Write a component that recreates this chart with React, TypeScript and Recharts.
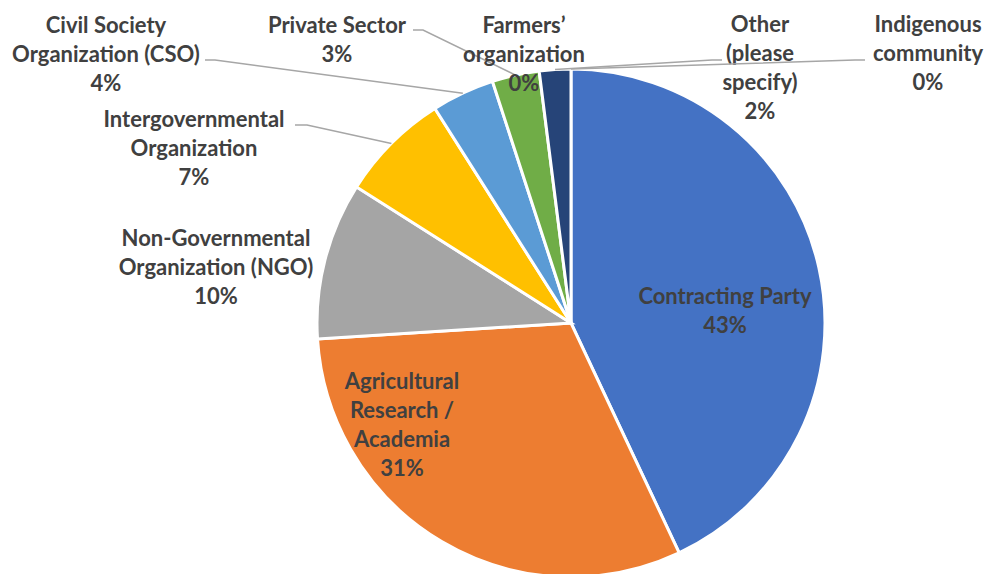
import { Cell, Pie, PieChart } from 'recharts'

const CATEGORIES = [
	'Contracting Party',
	'Agricultural Research / Academia',
	'Non-Governmental Organization (NGO)',
	'Intergovernmental Organization',
	'Civil Society Organization (CSO)',
	'Private Sector',
	'Farmers’ organization',
	'Other (please specify)',
	'Indigenous community',
]
const SHARES = [43, 31, 10, 7, 4, 3, 0, 2, 0]
const COLORS = ['#4472C4', '#ED7D31', '#A5A5A5', '#FFC000', '#5B9BD5', '#70AD47', '#9E480E', '#264478', '#636363']

// label text lines (percent is appended), offsets from the pie centre
const LABEL_LINES = [
	['Contracting Party'],
	['Agricultural', 'Research /', 'Academia'],
	['Non-Governmental', 'Organization (NGO)'],
	['Intergovernmental', 'Organization'],
	['Civil Society', 'Organization (CSO)'],
	['Private Sector'],
	['Farmers’', 'organization'],
	['Other', '(please', 'specify)'],
	['Indigenous', 'community'],
]

type LabelPlace = { dx: number; dy: number; lead?: [number, number, number, number] }
const LABEL_PLACES: LabelPlace[] = [
	{ dx: 154, dy: -28 },
	{ dx: -169, dy: 57 },
	{ dx: -355, dy: -86 },
	{ dx: -377, dy: -205, lead: [-276, -198, -264, -198] },
	{ dx: -465, dy: -299, lead: [-366, -263, -356, -263] },
	{ dx: -234, dy: -299, lead: [-158, -293, -148, -293] },
	{ dx: -47, dy: -299 },
	{ dx: 189, dy: -300, lead: [151, -263, 141, -263] },
	{ dx: 357, dy: -300, lead: [294, -263, 284, -263] },
]

const data = CATEGORIES.map((name, i) => ({ name, value: SHARES[i] }))
const total = SHARES.reduce((a, b) => a + b, 0)

const LINE_GAP = 29
const FONT = 'Lato, "Liberation Sans", sans-serif'
const RAD = Math.PI / 180

const renderLabel = (props: any) => {
	const { cx, cy, midAngle, outerRadius, index } = props
	const place = LABEL_PLACES[index]
	const lines = [...LABEL_LINES[index], `${Math.round((SHARES[index] / total) * 100)}%`]
	const tx = cx + place.dx
	const ty = cy + place.dy
	let leader = null
	if (place.lead) {
		const ex = cx + outerRadius * Math.cos(-midAngle * RAD)
		const ey = cy + outerRadius * Math.sin(-midAngle * RAD)
		const [sx, sy, bx, by] = place.lead
		leader = (
			<polyline
				points={`${cx + sx},${cy + sy} ${cx + bx},${cy + by} ${ex},${ey}`}
				fill="none"
				stroke="#A6A6A6"
				strokeWidth={1.5}
			/>
		)
	}
	return (
		<g key={`lbl-${index}`}>
			{leader}
			<text textAnchor="middle" fontFamily={FONT} fontWeight={700} fontSize={22} fill="#404040">
				{lines.map((l, i) => (
					<tspan key={i} x={tx} y={ty + i * LINE_GAP} dominantBaseline="central">
						{l}
					</tspan>
				))}
			</text>
		</g>
	)
}

export default function App() {
	return (
		<div style={{ position: 'absolute', left: 0, top: 0, background: '#fff' }}>
			<PieChart width={987} height={574} margin={{ top: 0, right: 0, bottom: 0, left: 0 }}>
				<Pie
					data={data}
					dataKey="value"
					nameKey="name"
					cx={571}
					cy={323}
					outerRadius={254}
					startAngle={90}
					endAngle={-270}
					stroke="#fff"
					strokeWidth={3}
					label={renderLabel}
					labelLine={false}
					isAnimationActive={false}
				>
					{data.map((d, i) => (
						<Cell key={d.name} fill={COLORS[i]} />
					))}
				</Pie>
			</PieChart>
		</div>
	)
}
